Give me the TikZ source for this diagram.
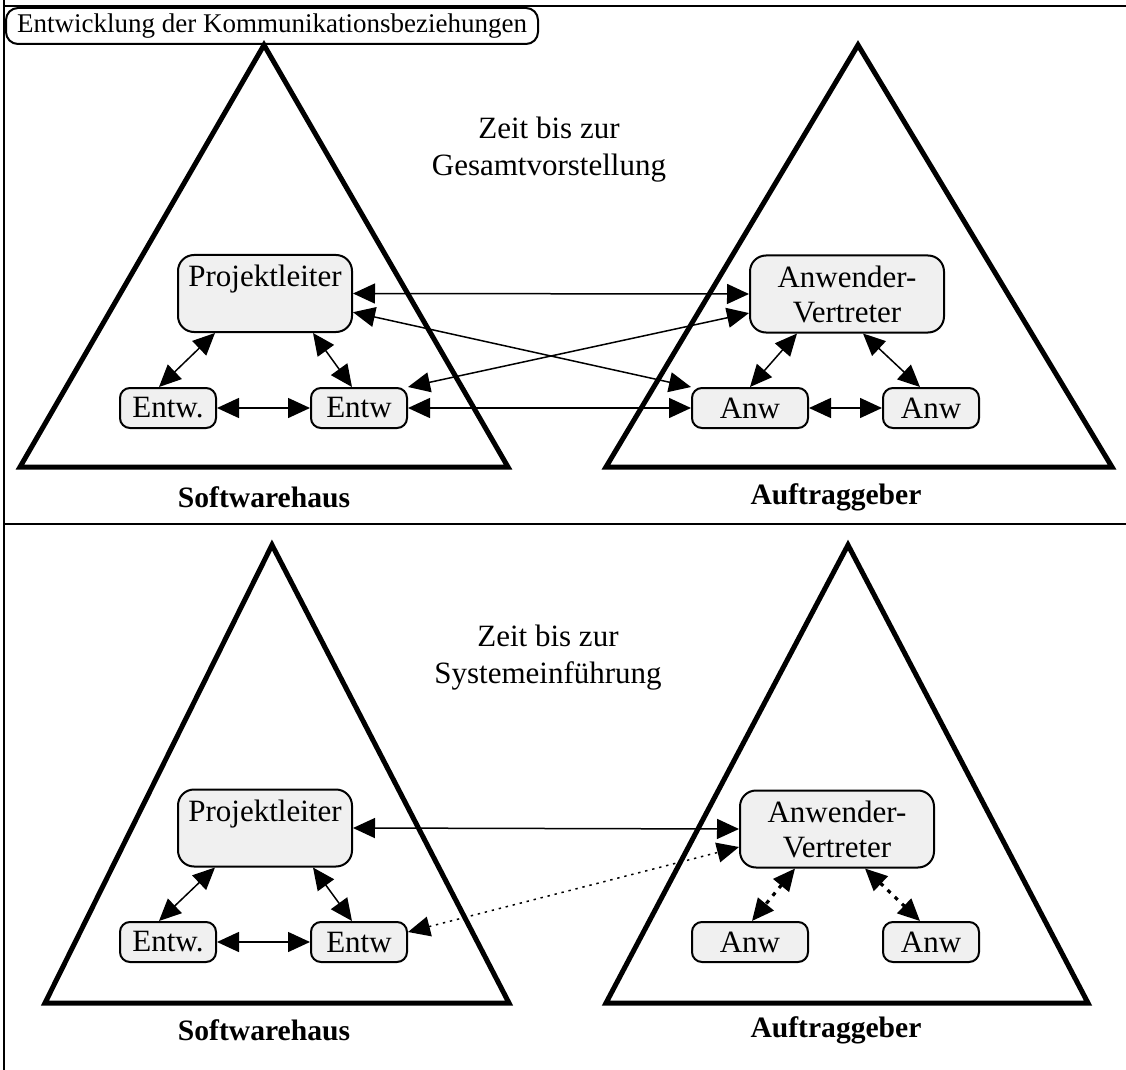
\documentclass[tikz,border=0pt]{standalone}
\usepackage{fontspec}
\setmainfont{Liberation Serif}
\usetikzlibrary{arrows.meta,positioning}
\definecolor{boxgray}{RGB}{240,240,240}
\tikzset{
  box/.style={draw, line width=1pt, fill=boxgray, inner sep=0pt, align=center,
    font=\fontsize{15.5}{17.5}\selectfont},
  bigbox/.style={box, rounded corners=8pt, minimum height=38.5pt},
  smallbox/.style={box, rounded corners=5pt, minimum width=48pt, minimum height=20pt},
  tri/.style={line width=2.5pt, line join=miter},
  conn/.style={{Triangle[length=11pt,width=10pt]}-{Triangle[length=11pt,width=10pt]}, line width=0.75pt},
  thindots/.style={conn, dash pattern=on 1.2pt off 2.4pt},
  thickdots/.style={conn, line width=1.6pt, dash pattern=on 2pt off 3pt},
  label/.style={font=\fontsize{15.5}{18.5}\selectfont, align=center},
  partlabel/.style={font=\fontsize{14.8}{18}\selectfont\bfseries}
}
\begin{document}
\begin{tikzpicture}[x=0.5pt, y=-0.5pt]
\useasboundingbox (0,0) rectangle (1126,1070);
% frame
\draw[line width=1.3pt] (4,6) -- (1126,6);
\draw[line width=1pt] (4,0) -- (4,1070);
\draw[line width=1pt] (4,524) -- (1126,524);
\node[draw, line width=1pt, rounded corners=6pt, anchor=north west, minimum width=266pt, minimum height=18pt,
  inner sep=1pt, font=\fontsize{13.5}{15}\selectfont] (title) at (5,7) {Entwicklung der Kommunikationsbeziehungen\hfill};

% upper half
\draw[tri] (20,467) -- (264,45) -- (508,467) -- cycle;
\draw[tri] (606,467) -- (858,45) -- (1112,467) -- cycle;
\node[label] (zeit1) at (549,150) {Zeit bis zur\\Gesamtvorstellung};
\node[partlabel] (sw1) at (264,497) {Softwarehaus};
\node[partlabel] (ag1) at (836,497) {Auftraggeber};

\node[bigbox, minimum width=87pt] (pl1) at (265,293.5) {Projektleiter\\\mbox{}};
\node[bigbox, minimum width=97pt] (av1) at (847,294) {Anwender-\\Vertreter};
\node[smallbox] (ew1a) at (168,408) {Entw.};
\node[smallbox] (ew1b) at (359,408) {Entw};
\node[smallbox, minimum width=58pt] (an1a) at (750,408) {Anw};
\node[smallbox] (an1b) at (931,408) {Anw};

\path[draw,conn] (pl1.east) -- (av1.west);
\path[draw,conn] (pl1.-12) -- (an1a.north west);
\path[draw,conn] (av1.191) -- (ew1b.north east);
\path[draw,conn] (ew1b.east) -- (an1a.west);
\path[draw,conn] (ew1a.east) -- (ew1b.west);
\path[draw,conn] (an1a.east) -- (an1b.west);
\path[draw,conn] ([xshift=-25pt]pl1.south) -- ([xshift=-4.5pt]ew1a.north);
\path[draw,conn] ([xshift=24pt]pl1.south) -- ([xshift=-3.5pt]ew1b.north);
\path[draw,conn] ([xshift=-25pt]av1.south) -- (an1a.north);
\path[draw,conn] ([xshift=8pt]av1.south) -- ([xshift=-5.5pt]an1b.north);

% lower half
\draw[tri] (45,1003) -- (272,545) -- (509,1003) -- cycle;
\draw[tri] (606,1003) -- (848,545) -- (1088,1003) -- cycle;
\node[label] (zeit2) at (548,658) {Zeit bis zur\\Systemeinführung};
\node[partlabel] (sw2) at (264,1030) {Softwarehaus};
\node[partlabel] (ag2) at (836,1030) {Auftraggeber};

\node[bigbox, minimum width=87pt] (pl2) at (265,828) {Projektleiter\\\mbox{}};
\node[bigbox, minimum width=97pt] (av2) at (837,829) {Anwender-\\Vertreter};
\node[smallbox] (ew2a) at (168,942) {Entw.};
\node[smallbox] (ew2b) at (359,942) {Entw};
\node[smallbox, minimum width=58pt] (an2a) at (750,942) {Anw};
\node[smallbox] (an2b) at (931,942) {Anw};

\path[draw,conn] (pl2.east) -- (av2.west);
\path[draw,thindots] ([yshift=-5.5pt]ew2b.north east) -- ([yshift=-9pt]av2.west);
\path[draw,conn] (ew2a.east) -- (ew2b.west);
\path[draw,conn] ([xshift=-25pt]pl2.south) -- ([xshift=-4.5pt]ew2a.north);
\path[draw,conn] ([xshift=24pt]pl2.south) -- ([xshift=-3.5pt]ew2b.north);
\path[draw,thickdots] ([xshift=-21pt]av2.south) -- ([xshift=1pt]an2a.north);
\path[draw,thickdots] ([xshift=14pt]av2.south) -- ([xshift=-5.5pt]an2b.north);
\end{tikzpicture}
\end{document}
